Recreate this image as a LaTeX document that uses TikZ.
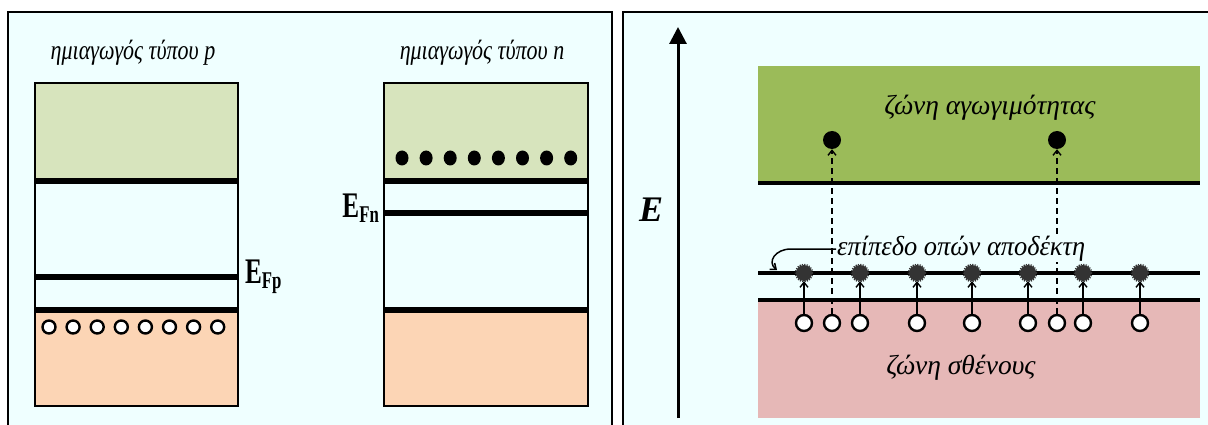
\documentclass[tikz,border=0pt]{standalone}
\usepackage{fontspec}
\setmainfont{Liberation Serif}
\usetikzlibrary{arrows.meta,shapes.geometric}
\definecolor{panelbg}{HTML}{EFFFFF}
\definecolor{cbpale}{HTML}{D7E4BD}
\definecolor{vbpale}{HTML}{FCD5B5}
\definecolor{cbgreen}{HTML}{9BBB59}
\definecolor{vbpink}{HTML}{E6B8B7}
\definecolor{accgray}{HTML}{333333}
\tikzset{
  panel/.style={draw=black, line width=2pt, fill=panelbg},
  bandbox/.style={draw=black, line width=2.2pt},
  level/.style={line width=6.5pt},
  thinlevel/.style={line width=4pt},
  title/.style={font=\itshape\fontsize{27.5}{29}\selectfont, inner sep=0pt, xscale=0.8},
  fermi/.style={font=\bfseries\fontsize{36}{38}\selectfont, inner sep=0pt, xscale=0.7},
  bandtext/.style={font=\itshape\fontsize{27.5}{29}\selectfont, inner sep=0pt},
  phole/.style={circle, draw=black, fill=white, line width=2.4pt, minimum width=10pt, minimum height=13pt, inner sep=0pt},
  nelec/.style={ellipse, fill=black, minimum width=13pt, minimum height=15pt, inner sep=0pt},
  relec/.style={circle, fill=black, minimum size=18pt, inner sep=0pt},
  rhole/.style={circle, draw=black, fill=white, line width=2.4pt, minimum size=16pt, inner sep=0pt},
  acc/.style={circle, fill=accgray, minimum size=16pt, inner sep=0pt},
  upbarb/.style={-{Straight Barb[length=5pt,width=8pt,line width=1.4pt]}, line width=1.6pt},
}
\newcommand{\fermisub}[1]{\raisebox{-0.3ex}{\fontsize{24}{26}\selectfont #1}}
\begin{document}
\begin{tikzpicture}[x=1pt,y=-1pt]
\useasboundingbox (0,0) rectangle (1208,425);
\clip (0,0) rectangle (1208,425);
\fill[white] (0,0) rectangle (1208,425);

% ---------- panels ----------
\draw[panel] (8,12) rectangle (612,440);
\draw[panel] (623,12) rectangle (1220,440);

% ---------- p-type semiconductor ----------
\node[title] (ptitle) at (133,53) {ημιαγωγός τύπου p};
\fill[cbpale] (35,83) rectangle (238,181);
\fill[vbpale] (35,310) rectangle (238,406);
\draw[level] (35,181) -- (238,181);
\draw[level] (35,277) -- (238,277);
\draw[level] (35,310) -- (238,310);
\draw[bandbox] (35,83) rectangle (238,406);
\foreach \i in {0,...,7}
  \node[phole] (ph\i) at (49+24.1*\i,327) {};
\node[fermi, anchor=west] (efp) at (245,277) {E\fermisub{Fp}};

% ---------- n-type semiconductor ----------
\node[title] (ntitle) at (482,53) {ημιαγωγός τύπου n};
\fill[cbpale] (384,83) rectangle (588,181);
\fill[vbpale] (384,310) rectangle (588,406);
\draw[level] (384,181) -- (588,181);
\draw[level] (384,213) -- (588,213);
\draw[level] (384,310) -- (588,310);
\draw[bandbox] (384,83) rectangle (588,406);
\foreach \i in {0,...,7}
  \node[nelec] (ne\i) at (402+24.1*\i,158) {};
\node[fermi, anchor=east] (efn) at (379,208) {E\fermisub{Fn}};

% ---------- acceptor level diagram ----------
\coordinate (axbot) at (678,418);
\coordinate (axtop) at (678,27);
\draw[line width=3pt, -{Triangle[length=17pt,width=17pt]}] (axbot) -- (axtop);
\node[font=\bfseries\itshape\fontsize{36}{38}\selectfont, inner sep=0pt] (elab) at (651,210) {E};

\fill[cbgreen] (758,66) rectangle (1200,183);
\fill[vbpink] (758,300) rectangle (1200,418);
\draw[thinlevel] (758,183) -- (1200,183);
\draw[thinlevel] (758,273) -- (1200,273);
\draw[thinlevel] (758,300) -- (1200,300);

\node[bandtext] (cbtext) at (990,108) {ζώνη αγωγιμότητας};
\node[bandtext] (vbtext) at (961,368) {ζώνη σθένους};

% acceptor states and the holes below them
\foreach \x [count=\k] in {804,860,917,972,1028,1083,1140} {
  \node[acc] (a\k) at (\x,273) {};
  \draw[accgray, line width=1.3pt, dash pattern=on 1.2pt off 1.2pt] (a\k) circle (8.6pt);
  \node[rhole] (h\k) at (\x,323) {};
  \draw[upbarb] (h\k.north) -- (a\k.south);
}

% electrons excited into the conduction band
\node[relec] (e1) at (832,140) {};
\node[relec] (e2) at (1057,140) {};
\node[rhole] (hx1) at (832,323) {};
\node[rhole] (hx2) at (1057,323) {};
\draw[upbarb, dash pattern=on 6pt off 4pt] (hx1.north) -- (e1.south);
\draw[upbarb, dash pattern=on 6pt off 4pt] (hx2.north) -- (e2.south);

% label of the acceptor level with its pointer
\node[bandtext, anchor=west, fill=panelbg, inner xsep=1pt, xscale=0.96] (acclab) at (836,249) {επίπεδο οπών αποδέκτη};
\coordinate (accpt) at (777,270);
\draw[-{Straight Barb[length=5pt,width=8pt]}, line width=1.5pt]
  (acclab.west) -- ++(-45,0) .. controls +(-16,0) and +(-10,-8) .. (accpt);
\end{tikzpicture}
\end{document}
